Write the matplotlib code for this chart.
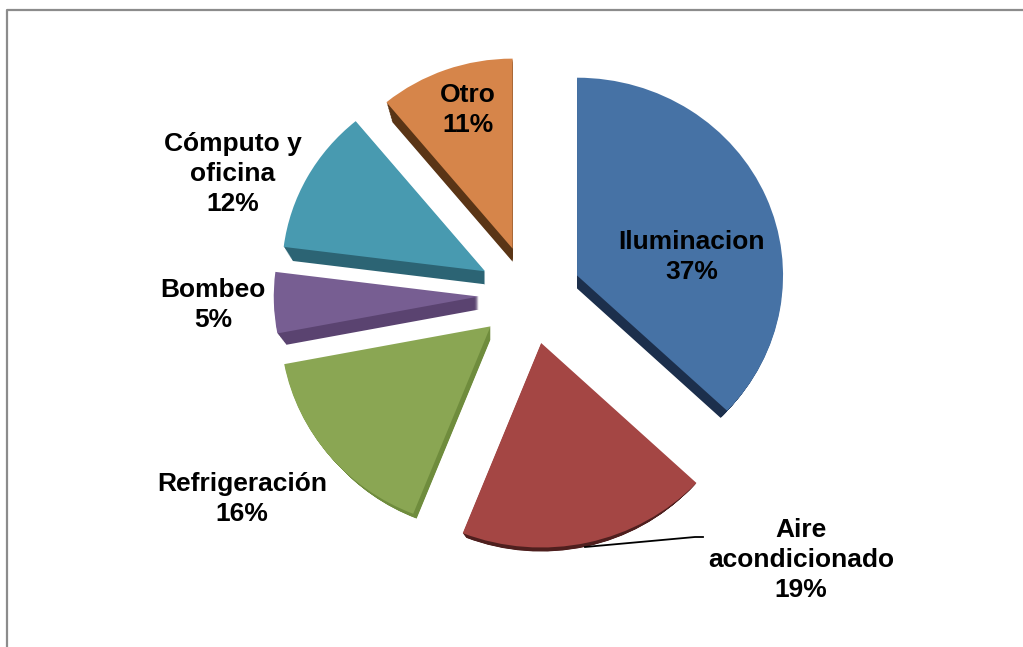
import matplotlib
matplotlib.use('Agg')
import matplotlib.pyplot as plt
from matplotlib.lines import Line2D

plt.rcParams['font.family'] = ['Liberation Sans', 'DejaVu Sans']

names = ['Iluminacion', 'Aire\nacondicionado', 'Refrigeración', 'Bombeo', 'Cómputo y\noficina', 'Otro']
shares = [37, 19, 16, 5, 12, 11]
top_colors = ['#4672A5', '#A44644', '#8AA653', '#775E92', '#489AB0', '#D6854A']
side_colors = ['#1C2F4C', '#4E1F1E', '#6F8C3D', '#5A4370', '#2C6474', '#5A3516']
# perspective: slices at the bottom of the picture come out bigger
slice_radius = [206, 213, 210, 205, 203, 198]
# label centres in pixels of the picture
label_pos = [(692, 257), (801, 560), (242, 499), (213, 305), (233, 174), (468, 110)]

W, H = 1023, 647
fig = plt.figure(figsize=(W / 100, H / 100), dpi=100)
ax = fig.add_axes([0, 0, 1, 1])

squash = 0.96  # the 3d tilt flattens the circle a little
cx, cy = 530, (H - 295) / squash
R = 205
boom = 0.25 * R  # pie takes explode in data units
depth = 13

# side faces: same slices stacked downwards, shrinking a little each step
for d in range(depth, 0, -1):
    side, _ = ax.pie(shares, colors=side_colors, startangle=90, counterclock=False,
                     explode=[boom] * 6, radius=R, center=(cx, cy - d / squash),
                     frame=True, wedgeprops={'linewidth': 0})
    for w, r in zip(side, slice_radius):
        w.set_radius(r * (1 - 0.044 * d / depth))

top, _ = ax.pie(shares, colors=top_colors, startangle=90, counterclock=False,
                explode=[boom] * 6, radius=R, center=(cx, cy),
                frame=True, wedgeprops={'linewidth': 0})
for w, r in zip(top, slice_radius):
    w.set_radius(r)
    w.set_zorder(3)

ax.set_aspect('auto')
ax.set_xlim(0, W)
ax.set_ylim(0, H / squash)
ax.axis('off')

for name, share, (x, y) in zip(names, shares, label_pos):
    fig.text(x / W, 1 - y / H, f'{name}\n{share}%', ha='center', va='center',
             fontsize=19, fontweight='bold', color='black', linespacing=1.3, zorder=5)

# leader line of the Aire acondicionado label
fig.add_artist(Line2D([585 / W, 695 / W, 703 / W], [1 - 547 / H, 1 - 537 / H, 1 - 537 / H],
                      color='black', lw=1.3, zorder=5))

# chart area border
fig.add_artist(Line2D([7 / W, 7 / W, 1], [0, 1 - 10 / H, 1 - 10 / H], color='#8C8C8C', lw=1.6))

fig.savefig('out.png', dpi=100)
